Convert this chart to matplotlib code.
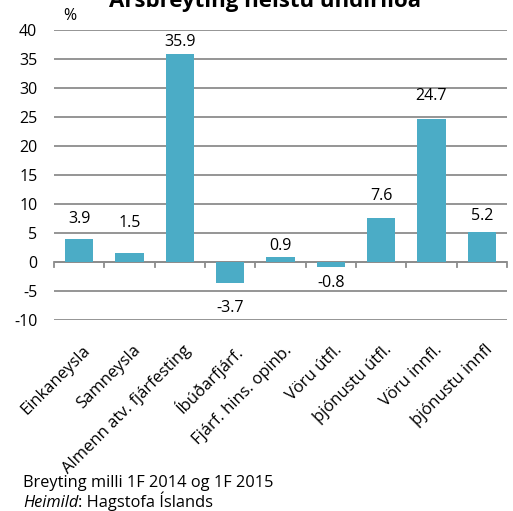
import matplotlib
matplotlib.use("Agg")
import matplotlib.pyplot as plt

categories = ["Einkaneysla", "Samneysla", "Almenn atv. fjárfesting", "Íbúðarfjárf.",
              "Fjárf. hins. opinb.", "Vöru útfl.", "þjónustu útfl.", "Vöru innfl.", "þjónustu innfl"]
values = [3.9, 1.5, 35.9, -3.7, 0.9, -0.8, 7.6, 24.7, 5.2]
yticks = [-10, -5, 0, 5, 10, 15, 20, 25, 30, 35, 40]

# layout: distance of each value label from the bar end (data units)
label_gap = [3.6, 5.2, 2.1, 4.3, 1.9, 2.9, 3.8, 4.0, 2.8]

plt.rcParams['font.family'] = ['Open Sans', 'DejaVu Sans']
W, H = 513, 511

fig = plt.figure(figsize=(W / 100, H / 100), dpi=100)
ax = fig.add_axes([54 / W, 1 - 320 / H, (507 - 54) / W, 290 / H])

x = list(range(len(categories)))
ax.bar(x, values, width=0.56, color="#4BACC6", zorder=3)
ax.set_xlim(-0.5, len(categories) - 0.5)
ax.set_ylim(-10, 40)
ax.set_yticks(yticks)
ax.set_yticklabels([str(t) for t in yticks], fontsize=11.5)
ax.tick_params(axis='y', length=0, pad=12)
ax.yaxis.grid(True, color="#8c8c8c", linewidth=1.3, zorder=0)
for s in ax.spines.values():
    s.set_visible(False)
ax.set_xticks([])
ax.axhline(0, color="#8c8c8c", linewidth=1.3, zorder=2)
for b in [i - 0.5 for i in range(len(categories) + 1)]:
    ax.plot([b, b], [0, -0.9], color="#8c8c8c", linewidth=1.3, zorder=2, clip_on=False)

for xi, v, g in zip(x, values, label_gap):
    yy = v + g if v >= 0 else v - g
    ax.text(xi, yy, f"{v:.1f}", ha='center', va='center', fontsize=11.5)

for xi, lab in zip(x, categories):
    ax.text(xi + 0.06, -13.8, lab, rotation=45, rotation_mode='anchor',
            ha='right', va='top', fontsize=12)

fig.text(265 / W, 1 - 7 / H, "Ársbreyting helstu undirliða", ha='center', va='baseline',
         fontsize=16, fontweight='bold')
fig.text(63 / W, 1 - 20 / H, "%", ha='left', va='baseline', fontsize=11.5)
fig.text(23 / W, 1 - 487 / H, "Breyting milli 1F 2014 og 1F 2015", ha='left', va='baseline', fontsize=11.8)
t = fig.text(23 / W, 1 - 507 / H, "Heimild", ha='left', va='baseline', fontsize=11.8, style='italic')
fig.canvas.draw()
bb = t.get_window_extent()
fig.text(bb.x1 / W, 1 - 507 / H, ": Hagstofa Íslands", ha='left', va='baseline', fontsize=11.8)

fig.savefig("out.png", dpi=100)
